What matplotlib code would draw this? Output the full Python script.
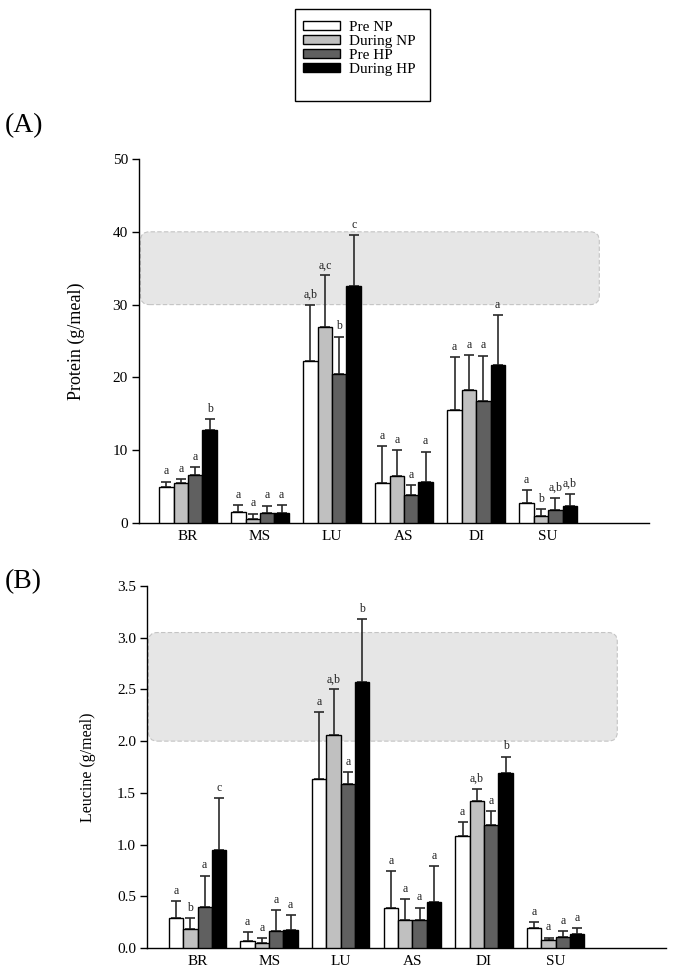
import matplotlib
matplotlib.use('Agg')
import matplotlib.pyplot as plt
from matplotlib.patches import FancyBboxPatch, Patch, Rectangle
import numpy as np

plt.rcParams['font.family'] = ['Liberation Serif', 'DejaVu Serif']

meals = ['BR', 'MS', 'LU', 'AS', 'DI', 'SU']
groups = ['Pre NP', 'During NP', 'Pre HP', 'During HP']
colors = ['#ffffff', '#c0c0c0', '#606060', '#000000']

# Panel A: protein (g/meal) means and upper SD
protein_pre_np = [5.0, 1.5, 22.2, 5.5, 15.5, 2.8]
protein_during_np = [5.5, 0.6, 26.9, 6.4, 18.3, 1.0]
protein_pre_hp = [6.6, 1.4, 20.5, 3.8, 16.7, 1.8]
protein_during_hp = [12.8, 1.4, 32.5, 5.7, 21.7, 2.35]
protein_sd_pre_np = [0.7, 1.0, 7.8, 5.1, 7.3, 1.7]
protein_sd_during_np = [0.5, 0.7, 7.1, 3.6, 4.8, 0.9]
protein_sd_pre_hp = [1.1, 1.0, 5.1, 1.4, 6.3, 1.6]
protein_sd_during_hp = [1.5, 1.1, 7.0, 4.1, 6.9, 1.65]
protein_letters = [['a', 'a', 'a,b', 'a', 'a', 'a'],
                   ['a', 'a', 'a,c', 'a', 'a', 'b'],
                   ['a', 'a', 'b', 'a', 'a', 'a,b'],
                   ['b', 'a', 'c', 'a', 'a', 'a,b']]
protein_band = (30, 40)

# Panel B: leucine (g/meal)
leucine_pre_np = [0.29, 0.07, 1.63, 0.39, 1.08, 0.19]
leucine_during_np = [0.18, 0.05, 2.06, 0.27, 1.42, 0.08]
leucine_pre_hp = [0.40, 0.165, 1.59, 0.27, 1.19, 0.11]
leucine_during_hp = [0.95, 0.17, 2.57, 0.44, 1.69, 0.14]
leucine_sd_pre_np = [0.16, 0.08, 0.65, 0.35, 0.14, 0.06]
leucine_sd_during_np = [0.11, 0.045, 0.44, 0.20, 0.12, 0.02]
leucine_sd_pre_hp = [0.30, 0.20, 0.11, 0.12, 0.13, 0.05]
leucine_sd_during_hp = [0.50, 0.15, 0.61, 0.35, 0.16, 0.05]
leucine_letters = [['a', 'a', 'a', 'a', 'a', 'a'],
                   ['b', 'a', 'a,b', 'a', 'a,b', 'a'],
                   ['a', 'a', 'a', 'a', 'a', 'a'],
                   ['c', 'a', 'b', 'a', 'b', 'a']]
leucine_band = (2.0, 3.05)

W, H = 677, 972
fig = plt.figure(figsize=(W / 100, H / 100), dpi=100)


def panel(rect_px, xlim, ylim, yticks, fmt, ylabel, ylabel_size, label_x, vals, sds,
          letters, band, band_end):
    l, t, r, b = rect_px
    ax = fig.add_axes([l / W, 1 - b / H, (r - l) / W, (b - t) / H])
    ax.set_xlim(*xlim)
    ax.set_ylim(*ylim)
    x = np.arange(len(meals))
    width = 0.2
    for i, (v, s, c) in enumerate(zip(vals, sds, colors)):
        xs = x + (i - 1.5) * width
        ax.bar(xs, v, width=width, color=c, edgecolor='black', linewidth=1.0, zorder=3)
        ax.errorbar(xs, v, yerr=[np.zeros(len(v)), s], fmt='none', ecolor='#2a2a2a',
                    elinewidth=1.2, capsize=3.6, capthick=1.2, zorder=2)
        for xi, vi, si, lab in zip(xs, v, s, letters[i]):
            ax.annotate(lab, (xi, vi + si), xytext=(0, 3), textcoords='offset points',
                        ha='center', va='bottom', fontsize=8.5, color='#222222', zorder=4)
    # reference band with rounded corners
    fig.canvas.draw()
    pxx = ax.transData.transform((1, 0))[0] - ax.transData.transform((0, 0))[0]
    pxy = ax.transData.transform((0, 1))[1] - ax.transData.transform((0, 0))[1]
    rpx = 9
    x0 = xlim[0] + 0.02
    box = FancyBboxPatch((x0, band[0]), band_end - x0, band[1] - band[0],
                         boxstyle=f"round,pad=0,rounding_size={rpx / pxx}",
                         mutation_aspect=pxx / pxy,
                         facecolor='#e6e6e6', edgecolor='#c4c4c4', linewidth=0.8,
                         linestyle=(0, (4, 2)), zorder=1)
    ax.add_patch(box)
    for sp in ['top', 'right']:
        ax.spines[sp].set_visible(False)
    for sp in ['left', 'bottom']:
        ax.spines[sp].set_linewidth(1.0)
    ax.set_xticks(x)
    ax.set_xticklabels(meals, fontsize=11)
    ax.tick_params(axis='x', length=0, pad=5)
    ax.set_yticks(yticks)
    ax.set_yticklabels([fmt.format(v) for v in yticks], fontsize=11)
    ax.tick_params(axis='y', direction='out', length=5, width=1.0, pad=3)
    ax.set_ylabel(ylabel, fontsize=ylabel_size)
    ax.yaxis.set_label_coords(label_x, 0.5)
    return ax


panel((139, 159, 649, 523), (-0.68, 6.4), (0, 50), np.arange(0, 51, 10), '{:.0f}',
      'Protein (g/meal)', 13, -0.106,
      [protein_pre_np, protein_during_np, protein_pre_hp, protein_during_hp],
      [protein_sd_pre_np, protein_sd_during_np, protein_sd_pre_hp, protein_sd_during_hp],
      protein_letters, protein_band, 5.71)

panel((147, 586, 666, 948), (-0.705, 6.54), (0, 3.5), np.arange(0, 3.51, 0.5), '{:.1f}',
      'Leucine (g/meal)', 11.5, -0.098,
      [leucine_pre_np, leucine_during_np, leucine_pre_hp, leucine_during_hp],
      [leucine_sd_pre_np, leucine_sd_during_np, leucine_sd_pre_hp, leucine_sd_during_hp],
      leucine_letters, leucine_band, 5.86)

fig.text(5 / W, 1 - 126 / H, '(A)', fontsize=20, ha='left', va='center')
fig.text(5 / W, 1 - 582 / H, '(B)', fontsize=20, ha='left', va='center')

# legend
fig.patches.append(Rectangle((295 / W, 1 - 101 / H), 135 / W, 92 / H, transform=fig.transFigure,
                             facecolor='white', edgecolor='black', linewidth=1.0))
handles = [Patch(facecolor=c, edgecolor='black', linewidth=1.0) for c in colors]
fig.legend(handles, groups, loc='upper left', bbox_to_anchor=(303 / W, 1 - 21 / H),
           frameon=False, fontsize=11, handlelength=2.4, handleheight=0.5,
           labelspacing=0.07, handletextpad=0.6, borderpad=0, borderaxespad=0)

fig.savefig('out.png', dpi=100)
